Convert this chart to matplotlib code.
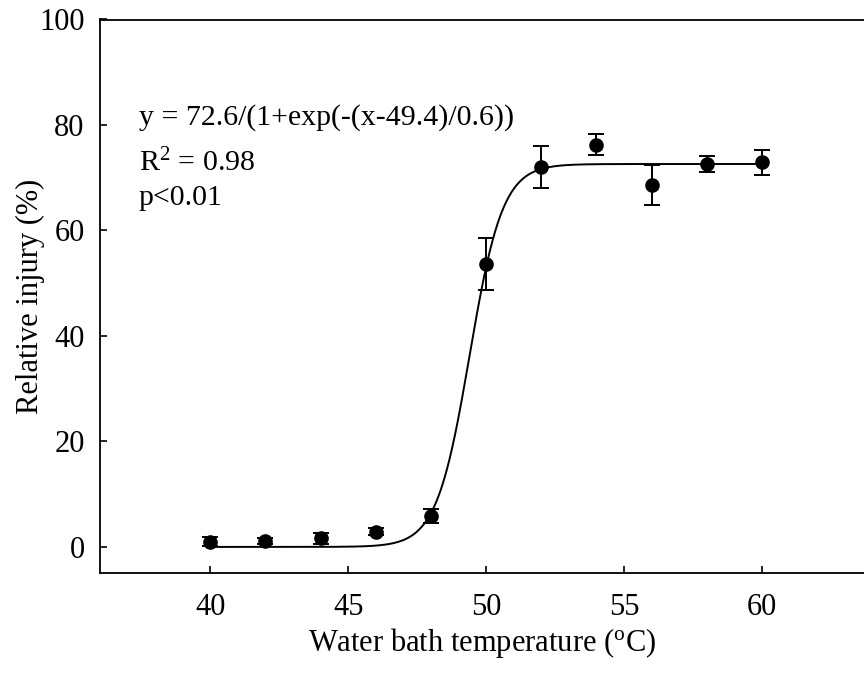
import numpy as np
import matplotlib
matplotlib.use("Agg")
import matplotlib.pyplot as plt

# Measured relative injury at each water bath temperature
temps = [40, 42, 44, 46, 48, 50, 52, 54, 56, 58, 60]
injury = [1.0, 1.1, 1.6, 2.9, 5.8, 53.6, 72.0, 76.3, 68.6, 72.6, 72.9]
injury_err = [0.8, 0.6, 1.1, 0.7, 1.3, 4.9, 4.0, 1.9, 3.8, 1.5, 2.3]

# Fitted logistic parameters (shown in the annotation)
fit_a = 72.6
fit_x0 = 49.4
fit_b = 0.6
fit_text = ["y = 72.6/(1+exp(-(x-49.4)/0.6))", "R$^2$ = 0.98", "p<0.01"]

plt.rcParams['font.family'] = ['Liberation Serif', 'DejaVu Serif']
plt.rcParams['mathtext.fontset'] = 'custom'
plt.rcParams['mathtext.rm'] = 'Liberation Serif'
plt.rcParams['mathtext.it'] = 'Liberation Serif:italic'

fig = plt.figure(figsize=(8.64, 6.75), dpi=100)
ax = fig.add_axes([100 / 864, 1 - 573.3 / 675, 1 - 100 / 864, (573.3 - 19.5) / 675])

xs = np.linspace(40, 60, 400)
ax.plot(xs, fit_a / (1 + np.exp(-(xs - fit_x0) / fit_b)), color='black', lw=1.4, zorder=2)
ax.errorbar(temps, injury, yerr=injury_err, fmt='o', color='black', ms=9.5,
            ecolor='black', elinewidth=1.4, capsize=6, capthick=1.4, zorder=3)

ax.text(37.4, 80.1, fit_text[0], fontsize=21.5)
ax.text(37.4, 71.2, fit_text[1], fontsize=21.5)
ax.text(37.4, 64.9, fit_text[2], fontsize=21.5)

ax.set_xlim(36, 63.7)
ax.set_ylim(-5, 100)
ax.set_xticks([40, 45, 50, 55, 60])
ax.set_yticks([0, 20, 40, 60, 80, 100])
ax.tick_params(direction='in', length=5, width=1.2, labelsize=22)
ax.tick_params(axis='x', pad=14)
ax.tick_params(axis='y', pad=11)
ax.spines['right'].set_visible(False)
for s in ['left', 'top', 'bottom']:
    ax.spines[s].set_linewidth(1.3)

ax.set_xlabel('Water bath temperature ($^{\\rm o}$C)', fontsize=22, labelpad=3)
ax.set_ylabel('Relative injury (%)', fontsize=22, labelpad=-4)

fig.savefig('out.png', dpi=100)
